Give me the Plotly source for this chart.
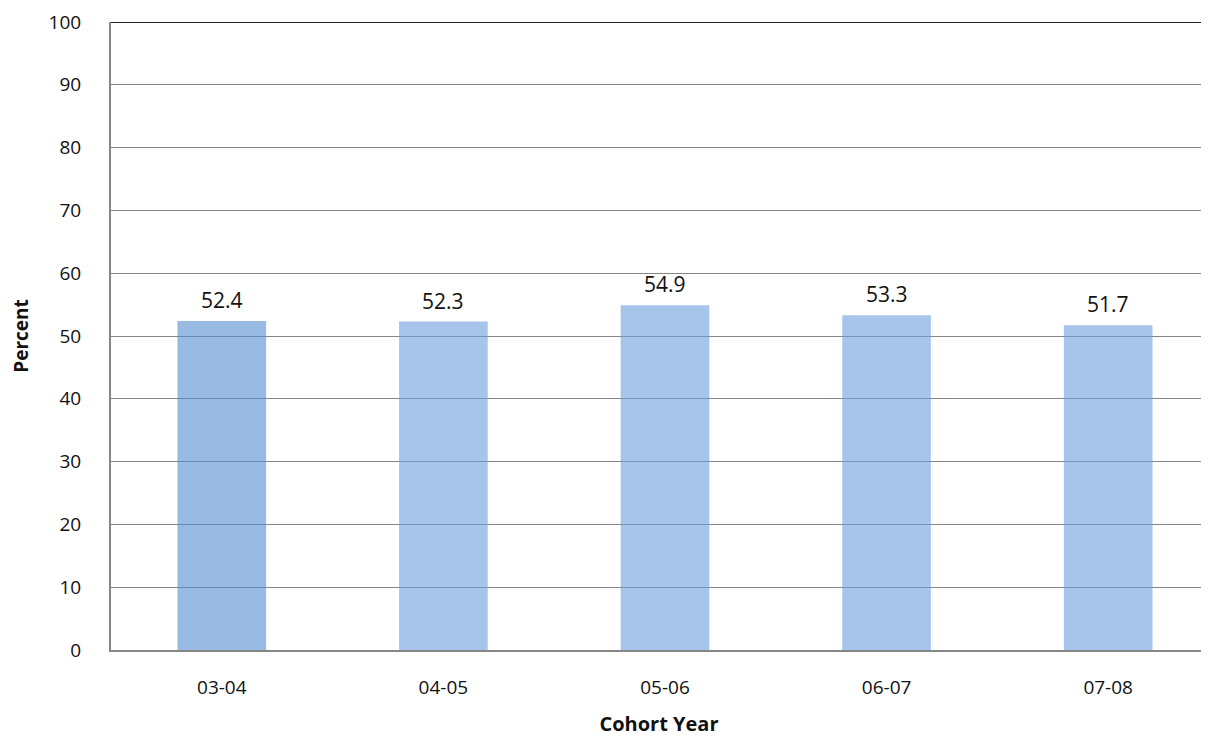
import plotly.graph_objects as go

categories = ["03-04", "04-05", "05-06", "06-07", "07-08"]
values = [52.4, 52.3, 54.9, 53.3, 51.7]
labels = ["52.4", "52.3", "54.9", "53.3", "51.7"]
bar_colors = ["rgba(83,140,208,0.6)"] + ["rgba(108,157,220,0.6)"] * 4

font_family = "Open Sans, Lato, sans-serif"

fig = go.Figure(go.Bar(
    x=categories, y=values,
    marker=dict(color=bar_colors, line=dict(width=0)),
    width=0.4, cliponaxis=False,
))

for c, v, t in zip(categories, values, labels):
    fig.add_annotation(x=c, y=v, text=t, showarrow=False, yanchor="bottom", yshift=5,
                       font=dict(size=21, color="#111", family=font_family))

fig.update_layout(
    width=1201, height=729,
    margin=dict(l=103, r=2, t=14, b=87),
    plot_bgcolor="white", paper_bgcolor="white",
    showlegend=False,
    font=dict(family=font_family, size=19, color="#111"),
    xaxis=dict(
        type="category", automargin=False,
        range=[-0.5, 4.446], showgrid=False, showline=True, linecolor="#868686", linewidth=2,
        ticks="", tickfont=dict(size=19), ticklabelstandoff=19,
        title=dict(text="<b>Cohort Year</b>", font=dict(size=20), standoff=22),
    ),
    yaxis=dict(
        automargin=False, ticklabeloverflow="allow",
        range=[0, 100], dtick=10, showgrid=True, gridcolor="#868686", gridwidth=1,
        showline=True, linecolor="#868686", linewidth=2, ticks="", zeroline=False,
        tickfont=dict(size=19), ticklabelstandoff=24,
        title=dict(text="<b>Percent</b>", font=dict(size=19), standoff=27),
    ),
    shapes=[dict(type="line", xref="paper", yref="y", x0=0, x1=1, y0=100, y1=100,
                 line=dict(color="#222", width=2))],
)

fig.write_html("out.html")
